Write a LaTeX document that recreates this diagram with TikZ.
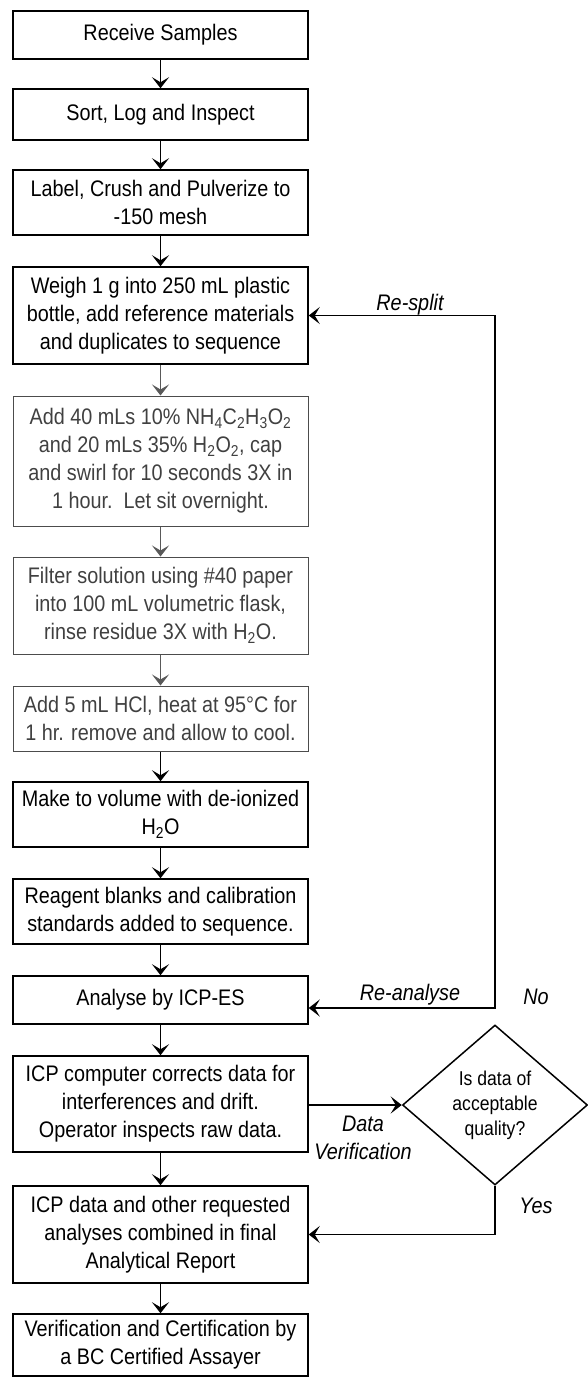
\documentclass[tikz,border=0pt]{standalone}
\usepackage{fontspec}
\setmainfont[FakeStretch=0.88]{Liberation Sans}
\usetikzlibrary{arrows.meta,shapes.geometric}

\tikzset{
  tip/.tip={Stealth[length=11pt,width=17pt,inset=5pt]},
  stepbox/.style={draw, line width=1.5pt, align=center, minimum width=295pt,
    inner sep=2pt, font=\fontsize{22.5}{28}\selectfont},
  faintbox/.style={stepbox, draw=black!70, text=black!75, line width=1pt},
  flow/.style={line width=1.5pt, -tip},
  faintflow/.style={line width=1pt, draw=black!65, -tip},
  twoway/.style={line width=1.5pt, tip-tip},
  query/.style={diamond, draw, line width=1.5pt, minimum width=185pt,
    minimum height=160pt, inner sep=0pt, align=center,
    font=\fontsize{20}{25}\selectfont},
  lbl/.style={align=center, inner sep=0pt, font=\fontsize{22.5}{28}\selectfont\itshape},
}

\begin{document}
\begin{tikzpicture}[x=1pt,y=-1pt]
\useasboundingbox (0,0) rectangle (587,1378);

% main sequence of steps
\node[stepbox, minimum height=48pt] (b1) at (160.5,35) {Receive Samples};
\node[stepbox, minimum height=51pt] (b2) at (160.5,114.5) {Sort, Log and Inspect};
\node[stepbox, minimum height=65pt] (b3) at (160.5,202.5) {Label, Crush and Pulverize to\\-150 mesh};
\node[stepbox, minimum height=97pt] (b4) at (160.5,315.5) {Weigh 1 g into 250 mL plastic\\bottle, add reference materials\\and duplicates to sequence};
\node[faintbox, minimum height=130pt] (b5) at (160.5,461) {Add 40 mLs 10\% NH\textsubscript{4}C\textsubscript{2}H\textsubscript{3}O\textsubscript{2}\\and 20 mLs 35\% H\textsubscript{2}O\textsubscript{2}, cap\\and swirl for 10 seconds 3X in\\1 hour.\ \ Let sit overnight.};
\node[faintbox, minimum height=97pt] (b6) at (160.5,605.5) {Filter solution using \#40 paper\\into 100 mL volumetric flask,\\rinse residue 3X with H\textsubscript{2}O.};
\node[faintbox, minimum height=65pt] (b7) at (160.5,718.5) {Add 5 mL HCl, heat at 95°C for\\1 hr. remove and allow to cool.};
\node[stepbox, minimum height=65pt] (b8) at (160.5,814.5) {Make to volume with de-ionized\\H\textsubscript{2}O};
\node[stepbox, minimum height=65pt] (b9) at (160.5,911.5) {Reagent blanks and calibration\\standards added to sequence.};
\node[stepbox, minimum height=48pt] (b10) at (160.5,1000) {Analyse by ICP-ES};
\node[stepbox, minimum height=96pt] (b11) at (160.5,1104) {ICP computer corrects data for\\interferences and drift.\\Operator inspects raw data.};
\node[stepbox, minimum height=97pt] (b12) at (160.5,1234.5) {ICP data and other requested\\analyses combined in final\\Analytical Report};
\node[stepbox, minimum height=62pt] (b13) at (160.5,1345) {Verification and Certification by\\a BC Certified Assayer};

% decision
\node[query] (q) at (495,1105) {Is data of\\acceptable\\quality?};

% downward flow
\draw[flow] (b1) -- (b2);
\draw[flow] (b2) -- (b3);
\draw[flow] (b3) -- (b4);
\draw[faintflow] (b4) -- (b5);
\draw[faintflow] (b5) -- (b6);
\draw[faintflow] (b6) -- (b7);
\draw[flow] (b7) -- (b8);
\draw[flow] (b8) -- (b9);
\draw[flow] (b9) -- (b10);
\draw[flow] (b10) -- (b11);
\draw[flow] (b11) -- (b12);
\draw[flow] (b12) -- (b13);

% verification and return loops
\draw[flow] (q.west -| b11.east) -- (q.west);
\draw[flow] (q.south) |- (b12.east);
\coordinate (nojoint) at (495,1008);
\draw[twoway] (nojoint -| b10.east) -- (nojoint) |- (b4.east);

% labels
\node[lbl] (lsplit) at (410,305) {Re-split};
\node[lbl] (lanalyse) at (410,995) {Re-analyse};
\node[lbl] (lno) at (536,997) {No};
\node[lbl] (lver) at (363,1138) {Data\\Verification};
\node[lbl] (lyes) at (536,1206) {Yes};
\end{tikzpicture}
\end{document}
